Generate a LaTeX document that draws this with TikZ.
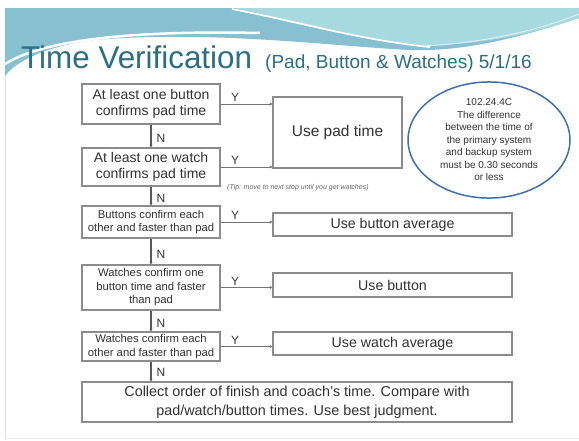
\documentclass[tikz,border=0pt]{standalone}
\usepackage{fontspec}
\setmainfont{Liberation Sans}
\usetikzlibrary{arrows.meta,shapes.geometric}
\definecolor{teal1}{HTML}{86C0D1}
\definecolor{teal2}{HTML}{A6D9E0}
\definecolor{titlecol}{HTML}{2B6F84}
\definecolor{txt}{HTML}{333333}
\definecolor{boxline}{HTML}{8C8C8C}
\definecolor{ellcol}{HTML}{3D70B3}
\tikzset{
  decision/.style={draw=boxline, line width=1.3pt, fill=white, text=txt,
    minimum width=138pt, inner sep=1pt, align=center},
  outcome/.style={draw=boxline, line width=1.3pt, fill=white, text=txt,
    inner sep=1pt, align=center},
  flowv/.style={draw=black!65, line width=1.4pt, -{Latex[length=2.5pt,width=3.5pt]}},
  flowh/.style={draw=black!55, line width=0.8pt, -{Latex[length=2.5pt,width=3.5pt]}},
  lbl/.style={text=txt, font=\fontsize{12}{12}\selectfont, inner sep=1pt},
}
\begin{document}
\begin{tikzpicture}[x=1pt,y=-1pt]
\useasboundingbox (0,0) rectangle (579,440);
\fill[white] (0,0) rectangle (579,440);
% slide frame
\draw[black!12, line width=0.8pt] (5,440) -- (5,8) -- (579,8);
\draw[black!8, line width=0.8pt] (5,438) -- (579,438);
% header band
\fill[teal1] (5,8) -- (579,8) -- (579,18)
  .. controls (530,34) and (470,52) .. (410,50)
  .. controls (330,46) and (210,30) .. (95,40)
  .. controls (45,46) and (15,62) .. (5,76) -- cycle;
\fill[teal2] (235,8) -- (579,8) -- (579,18)
  .. controls (540,32) and (480,46) .. (420,45)
  .. controls (360,38) and (290,20) .. (235,8) -- cycle;
\draw[white, line width=2.5pt] (5,64) .. controls (40,42) and (120,30) .. (260,33);
\draw[white, line width=1.8pt] (232,9) .. controls (300,22) and (360,40) .. (430,47);
\draw[white!60!teal2, line width=1pt] (420,46) .. controls (480,44) and (540,30) .. (579,14);
% title
\node[anchor=base west, text=titlecol, inner sep=0pt, font=\fontsize{31.4}{31.4}\selectfont]
  (title) at (21,68) {Time Verification};
\node[anchor=base west, text=titlecol, inner sep=0pt, font=\fontsize{19}{19}\selectfont]
  (subtitle) at (265,68) {(Pad, Button \& Watches) 5/1/16};
% decision boxes
\node[decision, minimum height=40pt, font=\fontsize{14}{15.5}\selectfont]
  (b1) at (151,104) {At least one button\\confirms pad time};
\node[decision, minimum height=38pt, font=\fontsize{14}{15.5}\selectfont]
  (b2) at (151,167) {At least one watch\\confirms pad time};
\node[decision, minimum height=32pt, font=\fontsize{11.3}{13.5}\selectfont]
  (b3) at (151,222) {Buttons confirm each\\other and faster than pad};
\node[decision, minimum height=45pt, font=\fontsize{11.3}{13.5}\selectfont]
  (b4) at (151,287.5) {Watches confirm one\\button time and faster\\than pad};
\node[decision, minimum height=29pt, font=\fontsize{11.3}{13.5}\selectfont]
  (b5) at (151,346.5) {Watches confirm each\\other and faster than pad};
\node[outcome, minimum width=430pt, minimum height=40pt, font=\fontsize{14.4}{19}\selectfont]
  (b6) at (297,402) {Collect order of finish and coach's time. Compare with\\pad/watch/button times. Use best judgment.};
% outcome boxes
\node[outcome, minimum width=129pt, minimum height=71pt, font=\fontsize{15.5}{16}\selectfont]
  (pad) at (337.5,132.5) {Use pad time};
\node[outcome, minimum width=239pt, minimum height=23pt, font=\fontsize{14.2}{15}\selectfont]
  (t3) at (392.5,224.5) {Use button average};
\node[outcome, minimum width=239pt, minimum height=24pt, font=\fontsize{14.2}{15}\selectfont]
  (t4) at (392.5,285) {Use button};
\node[outcome, minimum width=239pt, minimum height=23pt, font=\fontsize{14.2}{15}\selectfont]
  (t5) at (392.5,343.5) {Use watch average};
% rule note
\node[draw=ellcol, line width=1.5pt, ellipse, minimum width=162pt, minimum height=105pt,
  inner sep=0pt, text=txt, align=center, font=\fontsize{10}{12.5}\selectfont]
  (rule) at (489,140) {102.24.4C\\The difference\\between the time of\\the primary system\\and backup system\\must be 0.30 seconds\\or less};
\node[anchor=base west, text=black!60, inner sep=0pt, font=\fontsize{7}{7}\selectfont\itshape]
  (tip) at (227,189) {(Tip: move to next step until you get watches)};
% No branches
\draw[flowv] (b1) -- node[lbl, right=4pt, pos=0.62] {N} (b2);
\draw[flowv] (b2) -- node[lbl, right=4pt, pos=0.62] {N} (b3);
\draw[flowv] (b3) -- node[lbl, right=4pt, pos=0.62] {N} (b4);
\draw[flowv] (b4) -- node[lbl, right=4pt, pos=0.62] {N} (b5);
\draw[flowv] (b5.south) -- node[lbl, right=4pt, pos=0.55] {N} (b5.south |- b6.north);
% Yes branches
\draw[flowh] (b1.east) -- node[lbl, above=1pt, pos=0.28] {Y} (b1.east -| pad.west);
\draw[flowh] (b2.east) -- node[lbl, above=1pt, pos=0.28] {Y} (b2.east -| pad.west);
\draw[flowh] (b3.east) -- node[lbl, above=1pt, pos=0.28] {Y} (b3.east -| t3.west);
\draw[flowh] (b4.east) -- node[lbl, above=1pt, pos=0.28] {Y} (b4.east -| t4.west);
\draw[flowh] (b5.east) -- node[lbl, above=1pt, pos=0.28] {Y} (b5.east -| t5.west);
\end{tikzpicture}
\end{document}
